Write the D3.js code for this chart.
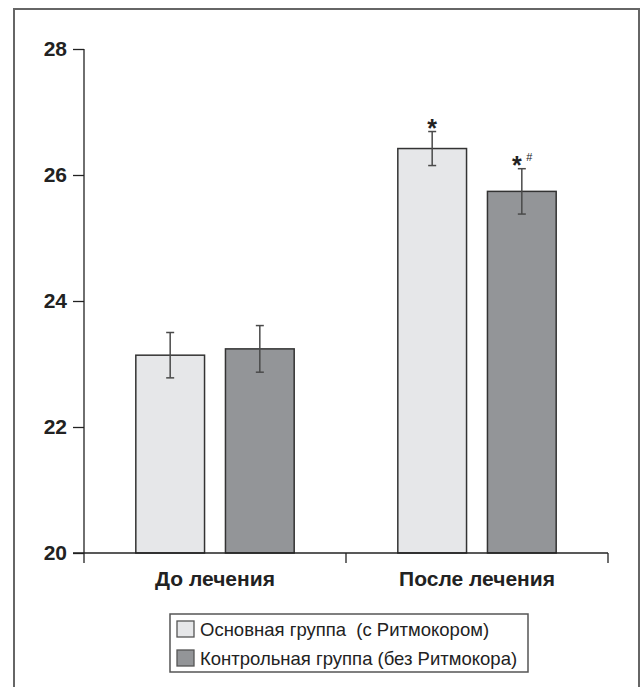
<!DOCTYPE html>
<html>
<head>
<meta charset="utf-8">
<script src="https://cdn.jsdelivr.net/npm/d3@7"></script>
<style>
  body { margin: 0; background: #fff; }
  svg { display: block; font-family: "Liberation Sans", Arial, sans-serif; }
</style>
</head>
<body>
<svg width="641" height="687"></svg>
<script>
// data
var categories = ["До лечения", "После лечения"];
var groups = ["Основная группа  (с Ритмокором)", "Контрольная группа (без Ритмокора)"];
var meanMain = [23.14, 26.42];
var errMain = [0.36, 0.27];
var meanCtrl = [23.24, 25.74];
var errCtrl = [0.37, 0.36];
var starMain = ["", "*"];
var starCtrl = ["", "*"];
var hashCtrl = ["", "#"];
var yTicks = [20, 22, 24, 26, 28];
var colors = ["#e6e7e9", "#939598"];

var svg = d3.select("svg");

// outer frame
svg.append("rect")
  .attr("x", 14).attr("y", 9)
  .attr("width", 625).attr("height", 700)
  .attr("fill", "none").attr("stroke", "#666").attr("stroke-width", 2);

var y = d3.scaleLinear().domain([20, 28]).range([553, 49]);
var x0 = d3.scaleBand().domain(categories).range([84, 608]);
var x1 = d3.scaleBand().domain(groups).range([0, x0.bandwidth()])
  .paddingInner(0.2333).paddingOuter(0.578);

var rows = [];
categories.forEach(function(c, i) {
  rows.push({cat: c, grp: groups[0], v: meanMain[i], e: errMain[i], star: starMain[i], hash: "", col: colors[0]});
  rows.push({cat: c, grp: groups[1], v: meanCtrl[i], e: errCtrl[i], star: starCtrl[i], hash: hashCtrl[i], col: colors[1]});
});

function cx(d) { return x0(d.cat) + x1(d.grp) + x1.bandwidth() / 2; }

// bars
svg.append("g").selectAll("rect")
  .data(rows).enter()
  .append("rect")
  .attr("x", function(d) { return x0(d.cat) + x1(d.grp); })
  .attr("y", function(d) { return y(d.v); })
  .attr("width", x1.bandwidth())
  .attr("height", function(d) { return y(20) - y(d.v); })
  .attr("fill", function(d) { return d.col; })
  .attr("stroke", "#333")
  .attr("stroke-width", 1.5);

// error bars
var eb = svg.append("g").attr("stroke", "#4a4a4a").attr("stroke-width", 1.5);
rows.forEach(function(d) {
  var xc = cx(d);
  eb.append("line").attr("x1", xc).attr("x2", xc)
    .attr("y1", y(d.v + d.e)).attr("y2", y(d.v - d.e));
  eb.append("line").attr("x1", xc - 4).attr("x2", xc + 4)
    .attr("y1", y(d.v + d.e)).attr("y2", y(d.v + d.e));
  eb.append("line").attr("x1", xc - 4).attr("x2", xc + 4)
    .attr("y1", y(d.v - d.e)).attr("y2", y(d.v - d.e));
});

// significance marks
rows.forEach(function(d) {
  var shift = d.hash ? -5 : 0;
  if (d.star) {
    svg.append("text")
      .attr("x", cx(d) + shift)
      .attr("y", y(d.v + d.e) + 5)
      .attr("text-anchor", "middle")
      .attr("font-size", 25).attr("font-weight", "bold")
      .attr("fill", "#222")
      .text(d.star);
  }
  if (d.hash) {
    svg.append("text")
      .attr("x", cx(d) + 7.5)
      .attr("y", y(d.v + d.e) - 8)
      .attr("text-anchor", "middle")
      .attr("font-size", 11)
      .attr("fill", "#222")
      .text(d.hash);
  }
});

// y axis
var yAxis = svg.append("g")
  .attr("transform", "translate(84,0)")
  .call(d3.axisLeft(y).tickValues(yTicks).tickSize(11).tickPadding(6));
yAxis.select(".domain").remove();
yAxis.selectAll(".tick line").attr("stroke", "#222").attr("stroke-width", 1.3);
yAxis.selectAll(".tick text")
  .attr("font-family", "Liberation Sans, Arial, sans-serif")
  .attr("font-size", 21).attr("font-weight", "bold").attr("fill", "#222");

svg.append("line")
  .attr("x1", 84).attr("x2", 84)
  .attr("y1", y(28)).attr("y2", y(20) + 10)
  .attr("stroke", "#222").attr("stroke-width", 1.3);

// x axis
svg.append("line")
  .attr("x1", 73).attr("x2", x0.range()[1])
  .attr("y1", y(20)).attr("y2", y(20))
  .attr("stroke", "#222").attr("stroke-width", 1.3);
var bounds = [x0.range()[0]].concat(categories.map(function(c) { return x0(c) + x0.bandwidth(); }));
svg.append("g").selectAll("line")
  .data(bounds.slice(1)).enter()
  .append("line")
  .attr("x1", function(d) { return d; }).attr("x2", function(d) { return d; })
  .attr("y1", y(20)).attr("y2", y(20) + 10)
  .attr("stroke", "#222").attr("stroke-width", 1.3);

svg.append("g").selectAll("text")
  .data(categories).enter()
  .append("text")
  .attr("x", function(c) { return x0(c) + x0.bandwidth() / 2; })
  .attr("y", y(20) + 33)
  .attr("text-anchor", "middle")
  .attr("font-size", 21).attr("font-weight", "bold").attr("fill", "#222")
  .text(function(c) { return c; });

// legend
var lg = svg.append("g");
lg.append("rect")
  .attr("x", 170).attr("y", 614)
  .attr("width", 358).attr("height", 58)
  .attr("fill", "#fff").attr("stroke", "#555").attr("stroke-width", 1.5);
groups.forEach(function(g, i) {
  lg.append("rect")
    .attr("x", 177).attr("y", 621 + i * 29)
    .attr("width", 17).attr("height", 16)
    .attr("fill", colors[i]).attr("stroke", "#555").attr("stroke-width", 1.3);
  lg.append("text")
    .attr("x", 200).attr("y", 636 + i * 29)
    .attr("font-size", 18.5).attr("fill", "#222")
    .attr("xml:space", "preserve")
    .style("white-space", "pre")
    .text(g);
});
</script>
</body>
</html>
